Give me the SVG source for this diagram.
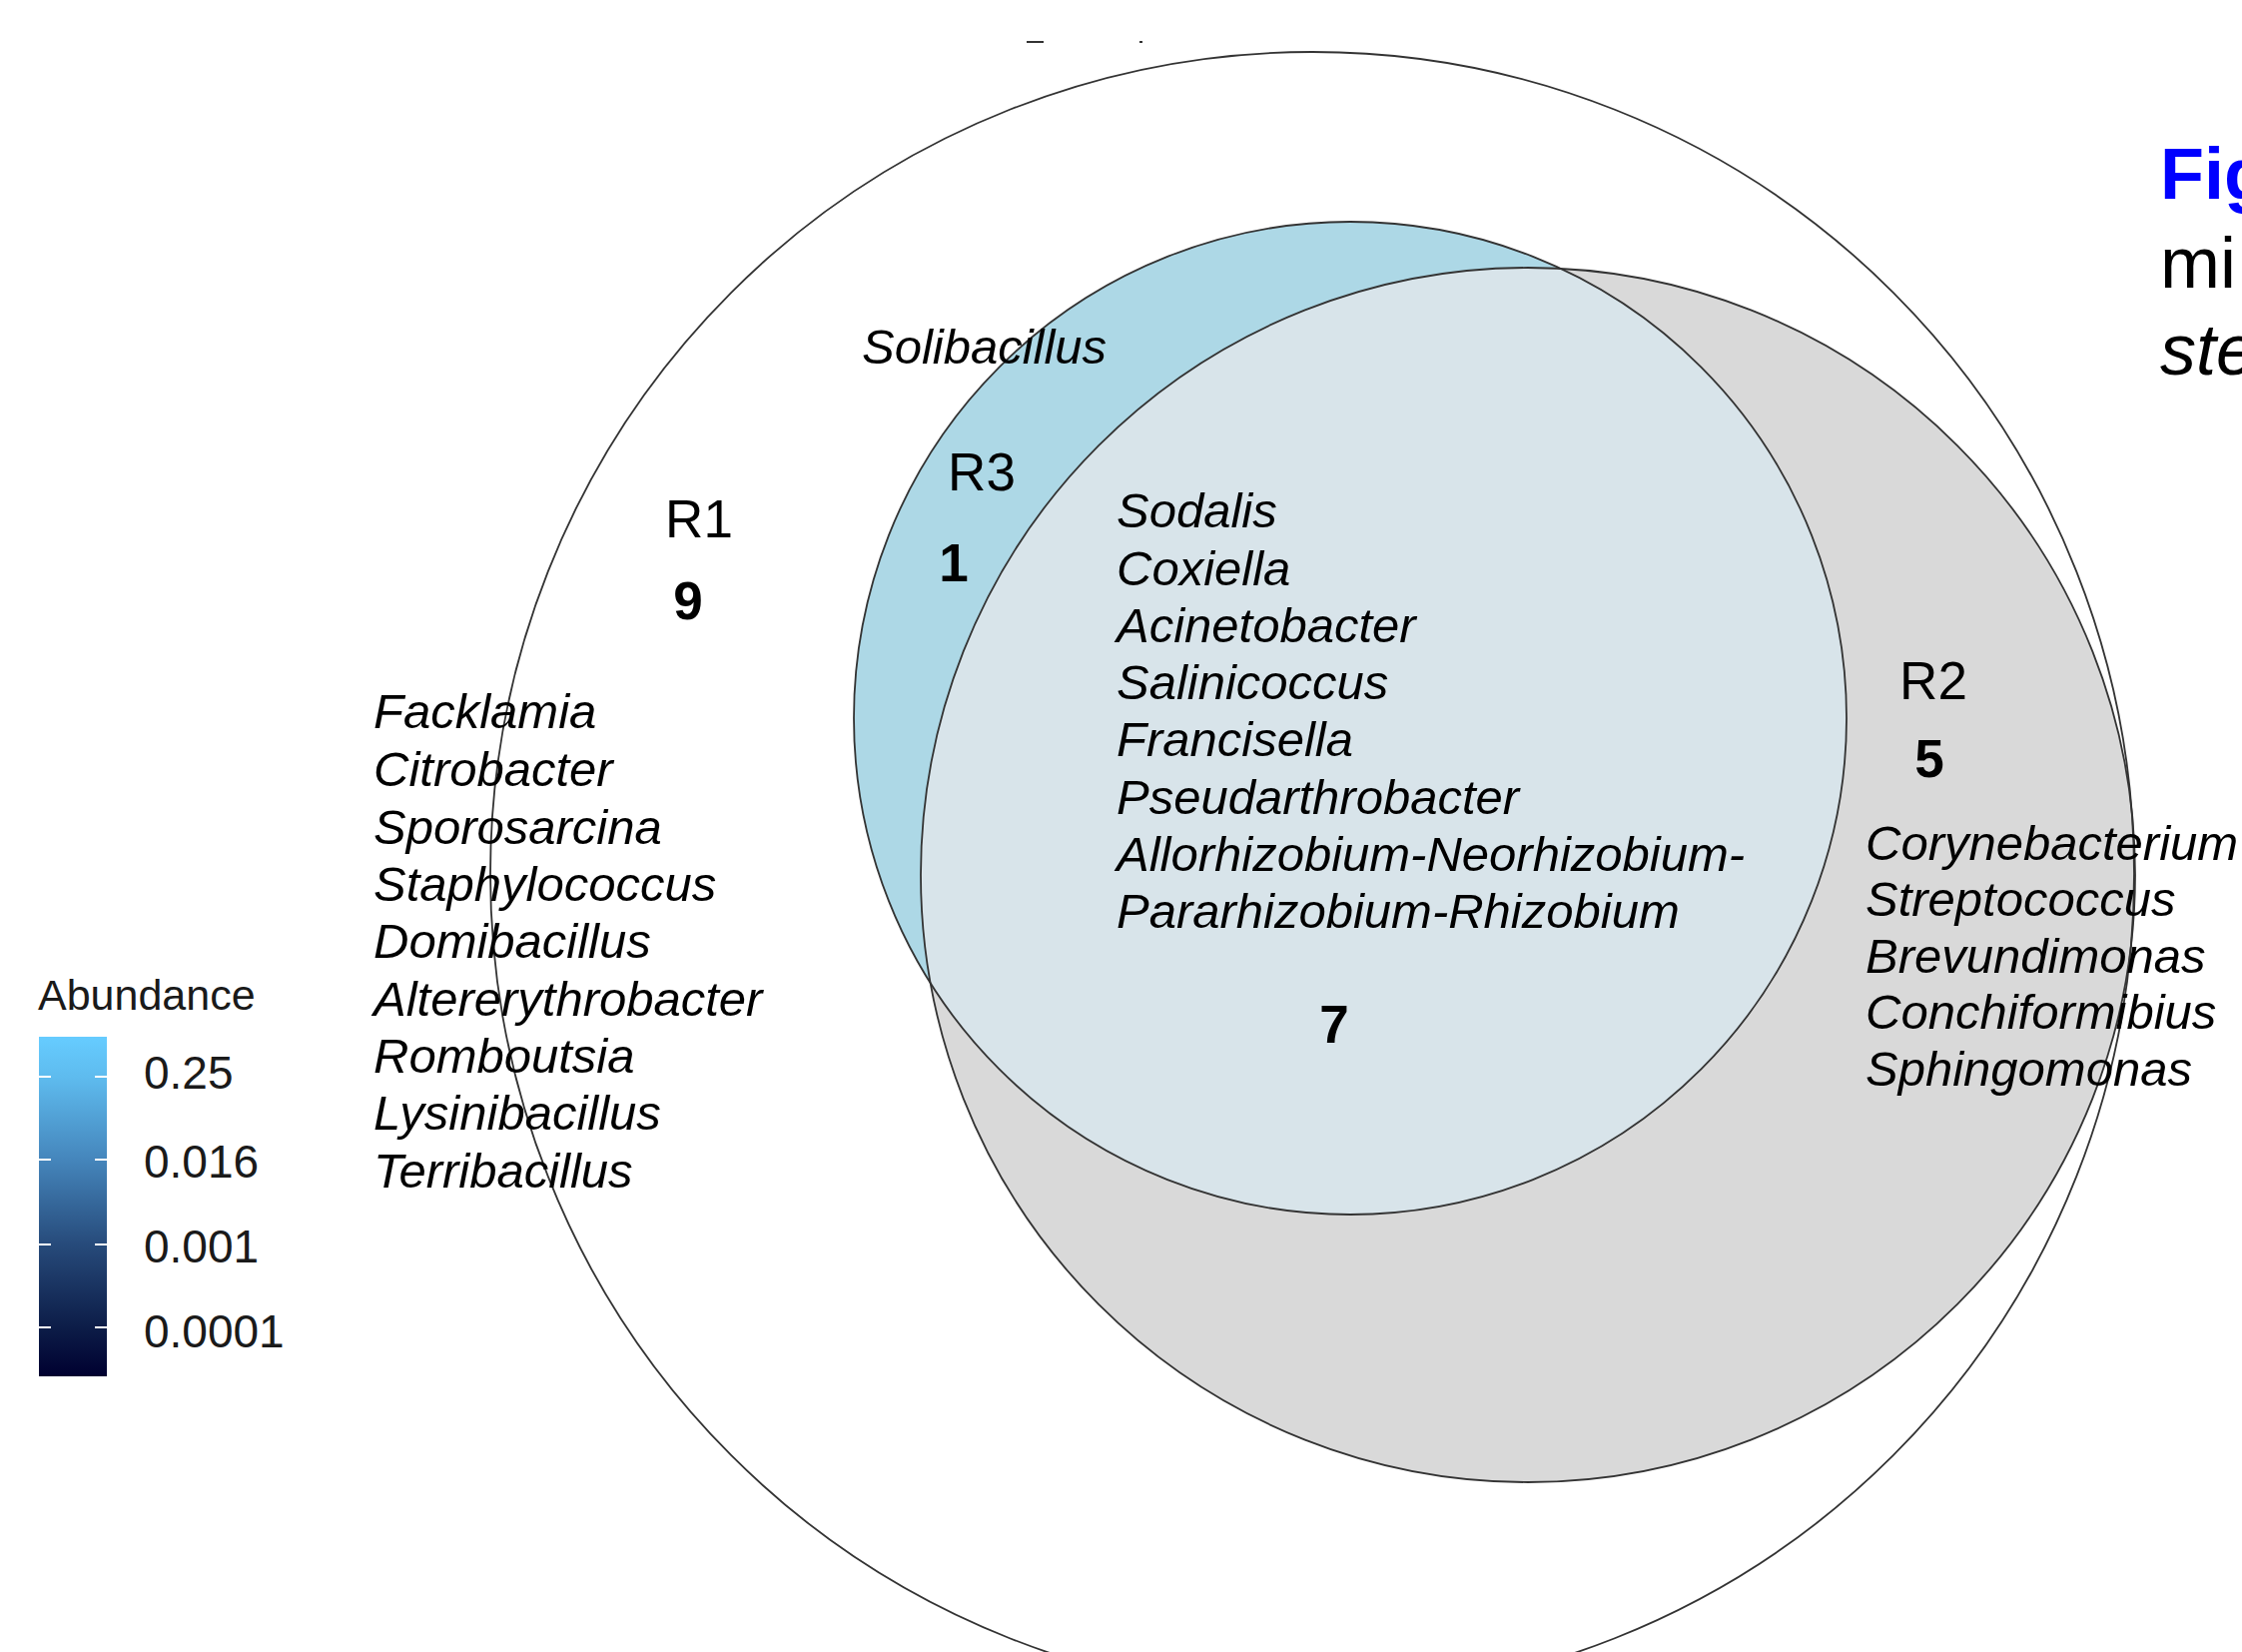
<svg xmlns="http://www.w3.org/2000/svg" width="2245" height="1654" viewBox="0 0 2245 1654">
<defs>
<style>
.outline{fill:none;stroke:#333;stroke-width:1.8}
.g{font-family:"Liberation Sans",Arial,sans-serif;font-style:italic;font-size:49px;fill:#000}
.lab{font-family:"Liberation Sans",Arial,sans-serif;font-size:53px;fill:#000;text-anchor:middle}
.num{font-family:"Liberation Sans",Arial,sans-serif;font-size:53px;font-weight:bold;fill:#000;text-anchor:middle}
.leg{font-family:"Liberation Sans",Arial,sans-serif;font-size:46px;fill:#1a1a1a}
.tick{stroke:#fff;stroke-width:2}
.side{font-family:"Liberation Sans",Arial,sans-serif;font-size:72px;fill:#000}
</style>
<linearGradient id="grad" x1="0" y1="0" x2="0" y2="1">
<stop offset="0" stop-color="#66CCFF"/>
<stop offset="0.12" stop-color="#5EBBEE"/>
<stop offset="0.36" stop-color="#4586BC"/>
<stop offset="0.61" stop-color="#274B7B"/>
<stop offset="0.86" stop-color="#0C1C47"/>
<stop offset="1" stop-color="#000030"/>
</linearGradient>
<clipPath id="clipR2"><circle cx="1530" cy="876" r="608"/></clipPath>
</defs>
<rect width="2245" height="1654" fill="#fff"/>
<rect x="1028" y="41" width="17" height="2" fill="#333"/>
<rect x="1141" y="41" width="3" height="2" fill="#333"/>

<g id="R3-area">
<circle cx="1352" cy="719" r="497" fill="#ADD8E6"/>
</g>
<g id="R2-area">
<circle cx="1530" cy="876" r="608" fill="#D9D9D9"/>
</g>
<g id="R2-R3-intersection">
<circle cx="1352" cy="719" r="497" fill="#D8E4EA" clip-path="url(#clipR2)"/>
</g>
<g id="outlines">
<circle class="outline" cx="1314" cy="875" r="823"/>
<circle class="outline" cx="1352" cy="719" r="497"/>
<circle class="outline" cx="1530" cy="876" r="608"/>
</g>

<g id="R1">
<text class="lab" x="700" y="538">R1</text>
<text class="num" x="689" y="620">9</text>
<text class="g" x="374" y="729">Facklamia</text>
<text class="g" x="374" y="787">Citrobacter</text>
<text class="g" x="374" y="845">Sporosarcina</text>
<text class="g" x="374" y="902">Staphylococcus</text>
<text class="g" x="374" y="959">Domibacillus</text>
<text class="g" x="374" y="1017">Altererythrobacter</text>
<text class="g" x="374" y="1074">Romboutsia</text>
<text class="g" x="374" y="1131">Lysinibacillus</text>
<text class="g" x="374" y="1189">Terribacillus</text>
</g>

<g id="R3">
<text class="g" x="863" y="364">Solibacillus</text>
<text class="lab" x="983" y="491">R3</text>
<text class="num" x="955" y="582">1</text>
</g>

<g id="shared">
<text class="g" x="1118" y="528">Sodalis</text>
<text class="g" x="1118" y="586">Coxiella</text>
<text class="g" x="1118" y="643">Acinetobacter</text>
<text class="g" x="1118" y="700">Salinicoccus</text>
<text class="g" x="1118" y="757">Francisella</text>
<text class="g" x="1118" y="815">Pseudarthrobacter</text>
<text class="g" x="1118" y="872">Allorhizobium-Neorhizobium-</text>
<text class="g" x="1118" y="929">Pararhizobium-Rhizobium</text>
<text class="num" x="1336" y="1044">7</text>
</g>

<g id="R2">
<text class="lab" x="1936" y="700">R2</text>
<text class="num" x="1932" y="778">5</text>
<text class="g" x="1868" y="861">Corynebacterium</text>
<text class="g" x="1868" y="917">Streptococcus</text>
<text class="g" x="1868" y="974">Brevundimonas</text>
<text class="g" x="1868" y="1030">Conchiformibius</text>
<text class="g" x="1868" y="1087">Sphingomonas</text>
</g>

<g id="legend">
<text class="leg" x="38" y="1011" style="font-size:43px">Abundance</text>
<rect x="39" y="1038" width="68" height="340" fill="url(#grad)"/>
<line class="tick" x1="39" y1="1078" x2="51" y2="1078"/><line class="tick" x1="95" y1="1078" x2="107" y2="1078"/>
<line class="tick" x1="39" y1="1161" x2="51" y2="1161"/><line class="tick" x1="95" y1="1161" x2="107" y2="1161"/>
<line class="tick" x1="39" y1="1246" x2="51" y2="1246"/><line class="tick" x1="95" y1="1246" x2="107" y2="1246"/>
<line class="tick" x1="39" y1="1329" x2="51" y2="1329"/><line class="tick" x1="95" y1="1329" x2="107" y2="1329"/>
<text class="leg" x="144" y="1090">0.25</text>
<text class="leg" x="144" y="1179">0.016</text>
<text class="leg" x="144" y="1264">0.001</text>
<text class="leg" x="144" y="1349">0.0001</text>
</g>

<g id="caption">
<text class="side" x="2163" y="199" style="fill:#0000FF;font-weight:bold">Fig</text>
<text class="side" x="2163" y="288">mi</text>
<text class="side" x="2163" y="375" style="font-style:italic">ste</text>
</g>
</svg>
